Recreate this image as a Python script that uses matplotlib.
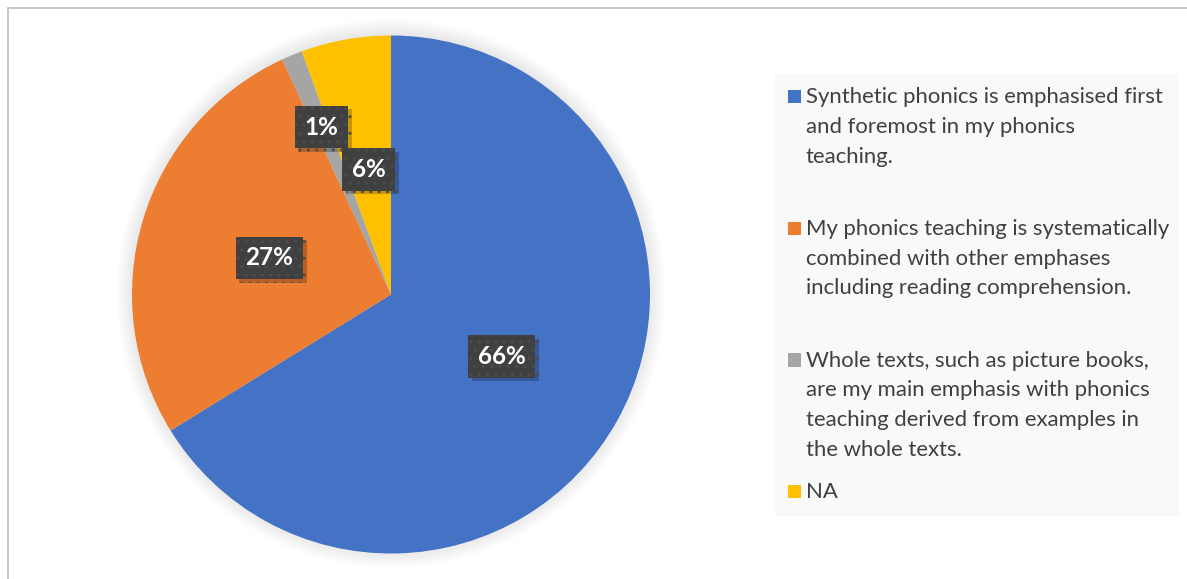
import matplotlib
matplotlib.use("Agg")
import matplotlib.pyplot as plt
import matplotlib.patheffects as pe
from matplotlib.patches import Rectangle, Circle
import numpy as np

# data (percent of respondents)
categories = [
    "Synthetic phonics is emphasised first\nand foremost in my phonics\nteaching.",
    "My phonics teaching is systematically\ncombined with other emphases\nincluding reading comprehension.",
    "Whole texts, such as picture books,\nare my main emphasis with phonics\nteaching derived from examples in\nthe whole texts.",
    "NA",
]
shares = [66.2, 26.9, 1.3, 5.6]
colors = ["#4472C4", "#ED7D31", "#A5A5A5", "#FFC000"]

W, H = 1187, 579
plt.rcParams["font.family"] = ["Lato", "DejaVu Sans"]

fig = plt.figure(figsize=(W / 100, H / 100), dpi=100)
fig.patch.set_facecolor("white")

# chart border (only top and left visible in the crop)
fig.add_artist(Rectangle((7.5 / W, -0.02), 1.05, 1 - 7.5 / H + 0.02,
                         transform=fig.transFigure, fill=False,
                         edgecolor="#BFBFBF", linewidth=1.2))

# pie axes, placed by pixels
cx, cy, R = 391, 294.5, 259
lim = 1.2
side = 2 * R * lim
ax = fig.add_axes([(cx - side / 2) / W, (H - cy - side / 2) / H, side / W, side / H])

# soft glow behind the pie
for r in np.linspace(1.0, 1.06, 12):
    ax.add_patch(Circle((0, 0.005), r, color="#000000", alpha=0.009, lw=0, zorder=0))

wedges, texts, autotexts = ax.pie(
    shares, colors=colors, startangle=90, counterclock=False,
    autopct="%.0f%%", pctdistance=0.49, radius=1.0,
    wedgeprops=dict(linewidth=0),
    textprops=dict(color="white", fontsize=17.5, fontweight="bold"),
)
ax.set_xlim(-lim, lim)
ax.set_ylim(-lim, lim)
ax.set_aspect("equal")
ax.axis("off")

label_r = [0.49, 0.49, 0.70, 0.49]
for w, t, r in zip(wedges, autotexts, label_r):
    mid = np.deg2rad((w.theta1 + w.theta2) / 2)
    t.set_position((r * np.cos(mid), r * np.sin(mid)))
    t.set_bbox(dict(boxstyle="square,pad=0.4", facecolor="#404040",
                    edgecolor="#4C4C4C", linewidth=0.0, hatch=".."))
    t.get_bbox_patch().set_path_effects([
        pe.withSimplePatchShadow(offset=(2.5, -2.5), shadow_rgbFace="black", alpha=0.22),
    ])

# legend, laid out like the Excel one
lx0, lx1, ly0, ly1 = 775, 1179, 74, 516
fig.add_artist(Rectangle((lx0 / W, 1 - ly1 / H), (lx1 - lx0) / W, (ly1 - ly0) / H,
                         transform=fig.transFigure, facecolor="#F9F9F9",
                         edgecolor="none", zorder=0))
first_base = 103.3
slot = 131.7
line_h = 29.7
for i, (lab, c) in enumerate(zip(categories, colors)):
    base = first_base + i * slot
    fig.add_artist(Rectangle((787.5 / W, 1 - base / H), 13.5 / W, 13.5 / H,
                             transform=fig.transFigure, facecolor=c, edgecolor="none"))
    for j, line in enumerate(lab.split("\n")):
        fig.text(806 / W, 1 - (base + j * line_h) / H, line, fontsize=15.9,
                 color="#404040", ha="left", va="baseline")

fig.savefig("out.png", dpi=100)
